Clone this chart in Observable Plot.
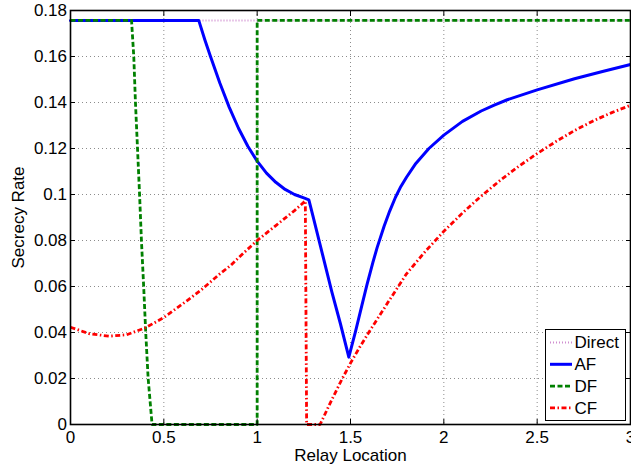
<!DOCTYPE html>
<html>
<head>
<meta charset="utf-8">
<script src="https://cdn.jsdelivr.net/npm/d3@7"></script>
<script src="https://cdn.jsdelivr.net/npm/@observablehq/plot@0.6"></script>
<style>
  html, body { margin: 0; padding: 0; background: #fff; }
  #wrap { position: relative; width: 631px; height: 465px; overflow: hidden; }
  #legend { position: absolute; background: #fff; border: 1.5px solid #000; box-sizing: border-box; }
</style>
</head>
<body>
<div id="wrap"></div>
<script>
// ---- data ----
const xTicks = [0, 0.5, 1, 1.5, 2, 2.5, 3];
const yTicks = [0, 0.02, 0.04, 0.06, 0.08, 0.1, 0.12, 0.14, 0.16, 0.18];

const seriesNames = ["Direct", "AF", "DF", "CF"];

const directX = [0, 3];
const directY = [0.1757, 0.1757];

const afX = [0, 0.687, 0.72, 0.75, 0.8, 0.85, 0.9, 0.95, 1.0, 1.05, 1.1, 1.15, 1.2, 1.25, 1.277,
  1.3, 1.35, 1.4, 1.446, 1.491,
  1.527, 1.56, 1.589, 1.62, 1.643, 1.68, 1.71, 1.741, 1.77, 1.8, 1.85, 1.92, 2.0, 2.1, 2.2, 2.27, 2.34, 2.5, 2.7, 2.85, 3.0];
const afY = [0.1757, 0.1757, 0.1672, 0.160, 0.1485, 0.1380, 0.1288, 0.1210, 0.1145, 0.1093, 0.1053, 0.1022, 0.1000, 0.0985, 0.0977,
  0.0903, 0.0740, 0.0577, 0.0438, 0.0293,
  0.0405, 0.0515, 0.0610, 0.0705, 0.0770, 0.0862, 0.0928, 0.0988, 0.1035, 0.1075, 0.1135, 0.1200, 0.1258, 0.1318, 0.1363, 0.1389, 0.1412, 0.1455, 0.1503, 0.1535, 0.1565];

const dfX = [0, 0.327, 0.339, 0.348, 0.359, 0.37, 0.38, 0.392, 0.403, 0.416, 0.437, 1.0, 1.0, 3.0];
const dfY = [0.1757, 0.1757, 0.16, 0.14, 0.12, 0.10, 0.08, 0.06, 0.04, 0.02, 0, 0, 0.1757, 0.1757];

const cfX = [0, 0.1, 0.205, 0.3, 0.4, 0.5, 0.625, 0.7, 0.8, 0.857, 0.9, 1.0, 1.1, 1.2, 1.258, 1.265, 1.337,
  1.4, 1.455, 1.5, 1.55, 1.6, 1.7, 1.8, 1.9, 2.0, 2.1, 2.2, 2.3, 2.4, 2.5, 2.6, 2.7, 2.8, 2.9, 3.0];
const cfY = [0.0423, 0.0395, 0.0384, 0.039, 0.042, 0.0465, 0.0539, 0.0585, 0.0655, 0.0691, 0.0725, 0.080, 0.0865, 0.093, 0.0972, 0, 0,
  0.0108, 0.0198, 0.0267, 0.0337, 0.0403, 0.0530, 0.0655, 0.0752, 0.0840, 0.0920, 0.0993, 0.1060, 0.1122, 0.1178, 0.1230, 0.1278, 0.1320, 0.1356, 0.1388];

// ---- styles ----
const FONT = "'Liberation Sans', Arial, Helvetica, sans-serif";
const styles = {
  Direct: {stroke: "#d08ed0", strokeWidth: 2, strokeDasharray: "1,2", strokeLinecap: "butt"},
  AF: {stroke: "#0000ff", strokeWidth: 3},
  DF: {stroke: "#008000", strokeWidth: 2.8, strokeDasharray: "5,2.5", strokeLinecap: "butt"},
  CF: {stroke: "#ff0000", strokeWidth: 2.8, strokeDasharray: "5,2.5,1.5,2.5", strokeLinecap: "butt"}
};

const toRows = (xs, ys) => xs.map((x, i) => ({x, y: ys[i]}));
const fmt = d => String(+(+d).toFixed(2));
const blank = () => "";

const chart = Plot.plot({
  width: 631,
  height: 465,
  marginLeft: 70,
  marginRight: 1,
  marginTop: 10,
  marginBottom: 41,
  style: {fontFamily: FONT, fontSize: "17px", background: "white", color: "black", overflow: "visible"},
  x: {domain: [0, 3]},
  y: {domain: [0, 0.18]},
  marks: [
    Plot.gridX(xTicks, {stroke: "#8c8c8c", strokeOpacity: 1, strokeDasharray: "1,3"}),
    Plot.gridY(yTicks, {stroke: "#8c8c8c", strokeOpacity: 1, strokeDasharray: "1,3"}),
    Plot.line(toRows(directX, directY), {x: "x", y: "y", ...styles.Direct}),
    Plot.line(toRows(afX, afY), {x: "x", y: "y", ...styles.AF}),
    Plot.line(toRows(dfX, dfY), {x: "x", y: "y", ...styles.DF}),
    Plot.line(toRows(cfX, cfY), {x: "x", y: "y", ...styles.CF}),
    Plot.frame({stroke: "black", strokeWidth: 1.6}),
    Plot.axisX(xTicks, {anchor: "bottom", tickSize: -5, tickPadding: 11.6, tickFormat: fmt,
      label: "Relay Location", labelArrow: "none", labelAnchor: "center", labelOffset: 36}),
    Plot.axisX(xTicks, {anchor: "top", tickSize: -5, tickFormat: blank, label: null}),
    Plot.axisY(yTicks, {anchor: "left", tickSize: -5, tickPadding: 8.5, tickFormat: fmt,
      label: "Secrecy Rate", labelArrow: "none", labelAnchor: "center", labelOffset: 59}),
    Plot.axisY(yTicks, {anchor: "right", tickSize: -5, tickFormat: blank, label: null})
  ]
});

const wrap = document.getElementById("wrap");
wrap.appendChild(chart);

// ---- legend (inside plot, lower right) ----
const legend = document.createElement("div");
legend.id = "legend";
legend.style.left = "545px";
legend.style.top = "329px";
legend.style.width = "81px";
legend.style.height = "92px";
const ns = "http://www.w3.org/2000/svg";
const lsvg = document.createElementNS(ns, "svg");
lsvg.setAttribute("width", "78");
lsvg.setAttribute("height", "89");
lsvg.style.display = "block";
seriesNames.forEach((name, i) => {
  const cy = 12.5 + i * 21.8;
  const st = styles[name];
  const ln = document.createElementNS(ns, "line");
  ln.setAttribute("x1", 4); ln.setAttribute("x2", 26);
  ln.setAttribute("y1", cy); ln.setAttribute("y2", cy);
  ln.setAttribute("stroke", st.stroke);
  ln.setAttribute("stroke-width", st.strokeWidth);
  if (st.strokeDasharray) ln.setAttribute("stroke-dasharray", st.strokeDasharray);
  ln.setAttribute("stroke-linecap", st.strokeLinecap || "butt");
  lsvg.appendChild(ln);
  const tx = document.createElementNS(ns, "text");
  tx.setAttribute("x", 28.5);
  tx.setAttribute("y", cy);
  tx.setAttribute("dy", "0.35em");
  tx.setAttribute("font-family", FONT);
  tx.setAttribute("font-size", "17px");
  tx.textContent = name;
  lsvg.appendChild(tx);
});
legend.appendChild(lsvg);
wrap.appendChild(legend);
</script>
</body>
</html>
